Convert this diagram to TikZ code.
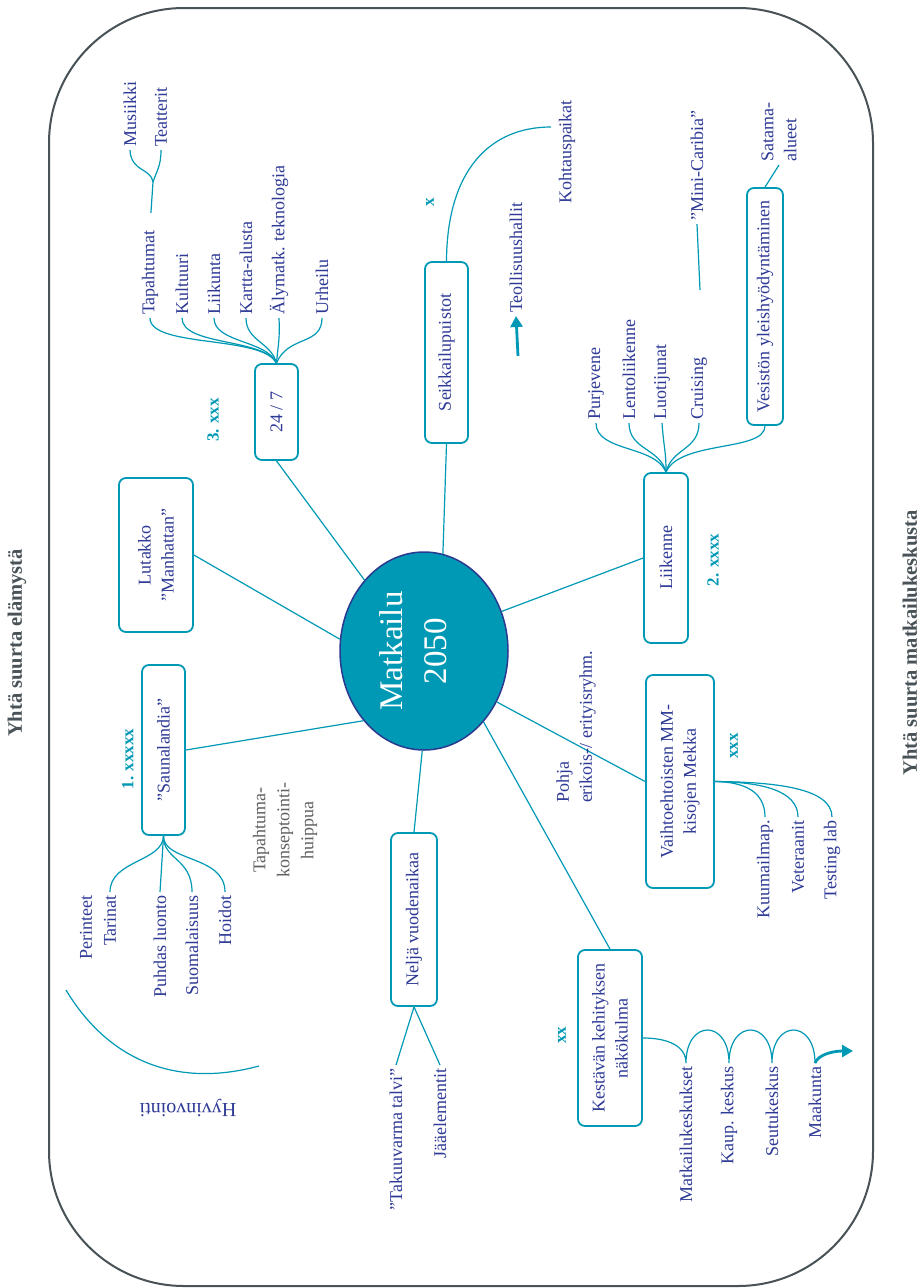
\documentclass[tikz,border=0pt]{standalone}
\usepackage{fontspec}
\setmainfont{Liberation Serif}
\usetikzlibrary{shapes.geometric,arrows.meta}
\definecolor{tealc}{RGB}{0,153,181}
\definecolor{txtblue}{RGB}{46,58,150}
\definecolor{navyc}{RGB}{43,57,144}
\definecolor{framegray}{RGB}{72,82,87}
\definecolor{notegray}{RGB}{95,95,95}
\begin{document}
\begin{tikzpicture}[x=1pt,y=-1pt,
  conn/.style={draw=tealc,line width=1.2pt},
  box/.style={draw=tealc,line width=1.8pt,rounded corners=7pt,fill=white,rotate=90,text=txtblue,align=center,inner sep=0pt,font=\fontsize{18}{23}\selectfont},
  lbl/.style={rotate=90,text=txtblue,inner sep=3pt,font=\fontsize{18}{23}\selectfont},
  tag/.style={rotate=90,text=tealc,inner sep=0pt,font=\fontsize{17}{20}\selectfont\bfseries},
  ttl/.style={rotate=90,text=framegray,inner sep=0pt,font=\fontsize{20.5}{24}\selectfont\bfseries}]
\useasboundingbox (0,0) rectangle (921,1288);
\fill[white] (0,0) rectangle (921,1288);
% frame
\draw[framegray,line width=2pt,rounded corners=135pt] (49,8) rectangle (873,1286);
% titles
\node[ttl] (tl) at (17,643) {Yhtä suurta elämystä};
\node[ttl] (tr) at (910,643) {Yhtä suurta matkailukeskusta};
% centre
\node[ellipse,draw=navyc,line width=1.5pt,fill=tealc,minimum width=168pt,minimum height=198pt,inner sep=0pt] (c) at (424,651) {};
\node[rotate=90,text=white,align=center,inner sep=0pt,font=\fontsize{33}{44}\selectfont] (ctext) at (413,651) {Matkailu\\2050};
% boxes
\node[box,minimum width=170pt,minimum height=43pt] (sauna) at (163.5,750) {”Saunalandia”};
\node[box,minimum width=154pt,minimum height=74pt] (lut) at (156,555) {Lutakko\\”Manhattan”};
\node[box,minimum width=96pt,minimum height=43pt] (t247) at (276.5,412) {24 / 7};
\node[box,minimum width=181pt,minimum height=43pt] (seik) at (446.5,352.5) {Seikkailupuistot};
\node[box,minimum width=170pt,minimum height=44pt] (liik) at (666,558) {Liikenne};
\node[box,minimum width=237pt,minimum height=36pt] (ves) at (765,306.5) {Vesistön yleishyödyntäminen};
\node[box,minimum width=213pt,minimum height=68pt] (mekka) at (680,781.5) {Vaihtoehtoisten MM-\\kisojen Mekka};
\node[box,minimum width=173pt,minimum height=46pt] (nelja) at (414,919.5) {Neljä vuodenaikaa};
\node[box,minimum width=176pt,minimum height=64pt] (kest) at (610,1038) {Kestävän kehityksen\\näkökulma};
% spokes
\draw[conn] (sauna.south) -- (c.229);
\draw[conn] (lut.south) -- (c.172.5);
\draw[conn] (t247.west) -- (c.130);
\draw[conn] (seik.west) -- (c.79);
\draw[conn] (liik.north) -- (c.27);
\draw[conn] (mekka.north) -- (c.325);
\draw[conn] (kest.east) -- (c.310);
\draw[conn] (nelja.east) -- (c.269);
% tags
\node[tag] (tag1) at (128,759) {1. xxxxx};
\node[tag] (tag2) at (713,560) {2. xxxx};
\node[tag] (tag3) at (213,420) {3. xxx};
\node[tag] (tagx) at (430,202) {x};
\node[tag] (tagxx) at (562,1035) {xx};
\node[tag] (tagxxx) at (734,746) {xxx};
% 24/7 children
\node[lbl,anchor=west] (tap) at (150,318) {Tapahtumat};
\node[lbl,anchor=west] (kult) at (182,318) {Kultuuri};
\node[lbl,anchor=west] (liiku) at (214,318) {Liikunta};
\node[lbl,anchor=west] (kartta) at (246,318) {Kartta-alusta};
\node[lbl,anchor=west] (aly) at (279,318) {Älymatk. teknologia};
\node[lbl,anchor=west] (urh) at (322,318) {Urheilu};
\draw[conn] (tap.west) .. controls (150,348) and (262,335) .. (t247.east);
\draw[conn] (kult.west) .. controls (182,346) and (264,338) .. (t247.east);
\draw[conn] (liiku.west) .. controls (214,343) and (267,340) .. (t247.east);
\draw[conn] (kartta.west) .. controls (246,341) and (271,342) .. (t247.east);
\draw[conn] (aly.west) .. controls (280,340) and (278,345) .. (t247.east);
\draw[conn] (urh.west) .. controls (322,346) and (288,335) .. (t247.east);
% Tapahtumat children
\node[lbl,anchor=west] (mus) at (130,150) {Musiikki};
\node[lbl,anchor=west] (teat) at (161,150) {Teatterit};
\coordinate (fork) at (153,182);
\draw[conn,shorten <=14pt] (tap.east) -- (fork);
\draw[conn] (fork) .. controls (151,168) and (131,172) .. (mus.west);
\draw[conn] (fork) .. controls (157,170) and (161,166) .. (teat.west);
% Seikkailupuistot
\node[lbl] (kohta) at (567,152) {Kohtauspaikat};
\coordinate (kohtend) at (551,127);
\draw[conn] (seik.east) .. controls (447,170) and (490,127) .. (kohtend);
\node[lbl,anchor=west] (teol) at (516,316) {Teollisuushallit};
\coordinate (teolarr) at (518,356);
\draw[tealc,line width=2.8pt,-{Triangle[length=11pt,width=12pt]}] (teolarr) -- (teol.west);
% Liikenne children
\node[lbl,anchor=west] (purj) at (596,423) {Purjevene};
\node[lbl,anchor=west] (lento) at (629,423) {Lentoliikenne};
\node[lbl,anchor=west] (luoti) at (662,423) {Luotijunat};
\node[lbl,anchor=west] (cruis) at (699,423) {Cruising};
\draw[conn] (purj.west) .. controls (596,452) and (655,445) .. (liik.east);
\draw[conn] (lento.west) .. controls (629,450) and (660,448) .. (liik.east);
\draw[conn] (luoti.west) .. controls (664,450) and (666,450) .. (liik.east);
\draw[conn] (cruis.west) .. controls (699,450) and (672,448) .. (liik.east);
\draw[conn] (ves.west) .. controls (765,452) and (680,440) .. (liik.east);
\node[lbl,anchor=west] (mini) at (697,224) {”Mini-Caribia”};
\coordinate (miniend) at (700,290);
\draw[conn] (mini.west) -- (miniend);
\node[lbl,anchor=west,align=left] (satama) at (779,165) {Satama-\\alueet};
\draw[conn] (ves.east) -- (satama.west);
% Mekka
\node[lbl,align=left] (pohja) at (576,727) {Pohja\\erikois-/ erityisryhm.};
\node[lbl,anchor=east] (kuum) at (765,817) {Kuumailmap.};
\node[lbl,anchor=east] (vet) at (798,817) {Veteraanit};
\node[lbl,anchor=east] (test) at (832,817) {Testing lab};
\draw[conn] (mekka.south) .. controls (745,782) and (765,792) .. (kuum.east);
\draw[conn] (mekka.south) .. controls (760,782) and (798,790) .. (vet.east);
\draw[conn] (mekka.south) .. controls (775,782) and (832,788) .. (test.east);
% Saunalandia children
\node[lbl,anchor=east] (per) at (86,892) {Perinteet};
\node[lbl,anchor=east] (tar) at (110,892) {Tarinat};
\node[lbl,anchor=east] (puhd) at (160,892) {Puhdas luonto};
\node[lbl,anchor=east] (suom) at (192,892) {Suomalaisuus};
\node[lbl,anchor=east] (hoid) at (225,892) {Hoidot};
\draw[conn] (sauna.west) .. controls (163,862) and (110,860) .. (tar.east);
\draw[conn] (sauna.west) -- (puhd.east);
\draw[conn] (sauna.west) .. controls (163,860) and (192,858) .. (suom.east);
\draw[conn] (sauna.west) .. controls (163,862) and (225,855) .. (hoid.east);
% gray note
\node[rotate=90,text=notegray,align=center,inner sep=0pt,font=\fontsize{18}{24}\selectfont] (note) at (285,830) {Tapahtuma-\\konseptointi-\\huippua};
% Hyvinvointi
\coordinate (hv1) at (66,990);
\coordinate (hv2) at (259,1066);
\draw[conn] (hv1) .. controls (105,1055) and (170,1090) .. (hv2);
\node[rotate=180,text=txtblue,inner sep=0pt,font=\fontsize{20}{24}\selectfont] (hyv) at (188,1108) {Hyvinvointi};
% Nelja children
\node[lbl,anchor=east] (takuu) at (396,1065) {”Takuuvarma talvi”};
\node[lbl,anchor=east] (jaa) at (440,1065) {Jääelementit};
\draw[conn] (nelja.west) -- (takuu.east);
\draw[conn] (nelja.west) -- (jaa.east);
% Kestava loop
\node[lbl,anchor=east] (mk) at (686,1063) {Matkailukeskukset};
\node[lbl,anchor=east] (kaup) at (729,1063) {Kaup. keskus};
\node[lbl,anchor=east] (seutu) at (772,1063) {Seutukeskus};
\node[lbl,anchor=east] (maak) at (815,1063) {Maakunta};
\draw[conn] (kest.south) .. controls (668,1038) and (686,1046) .. (mk.east)
  .. controls (686,1019) and (729,1019) .. (kaup.east)
  .. controls (729,1019) and (772,1019) .. (seutu.east)
  .. controls (772,1019) and (815,1019) .. (maak.east);
\coordinate (arrend) at (853,1051);
\draw[tealc,line width=2.8pt,-{Triangle[length=11pt,width=12pt]}] (maak.east) .. controls (818,1055) and (832,1051) .. (arrend);
\end{tikzpicture}
\end{document}
